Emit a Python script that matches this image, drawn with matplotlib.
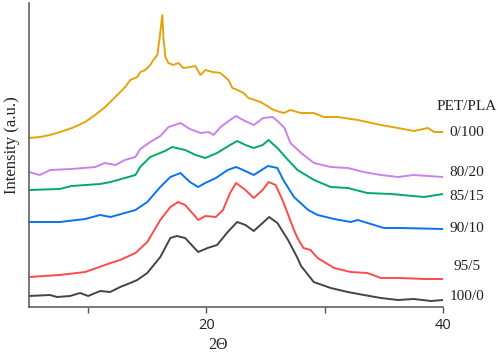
import matplotlib
import matplotlib.pyplot as plt

matplotlib.use("Agg", force=True)

# 2-theta / intensity (a.u.) pairs, bottom to top
two_theta_100_0 = [5.0, 6.78, 7.37, 8.47, 9.32, 10.0, 11.02, 11.86, 12.71, 13.56, 14.15, 15.0, 16.1, 16.95,
                   17.5, 18.2, 19.3, 20.1, 20.9, 21.8, 22.6, 23.3, 24.0, 24.75, 25.3, 26.0, 26.9, 27.7,
                   28.0, 29.07, 30.51, 31.95, 33.31, 34.75, 36.19, 37.54, 38.98, 40.0]
int_100_0 = [11, 12, 10, 11, 14, 11, 16, 15, 20, 24, 27, 34, 50, 69,
             71, 69, 55, 59, 62, 75, 85, 82, 76, 84, 90, 84, 67, 49,
             41, 25, 19, 15, 12, 9, 7, 8, 6, 7]

two_theta_95_5 = [5.0, 7.6, 9.75, 11.9, 12.7, 14.0, 15.0, 16.1, 16.95, 17.6, 18.2, 19.1, 19.3, 19.9,
                  20.8, 21.4, 22.0, 22.5, 23.3, 24.0, 24.75, 25.25, 25.85, 26.5, 27.4, 27.7, 28.2, 28.8,
                  29.4, 30.8, 32.2, 33.6, 34.75, 36.4, 38.4, 40.0]
int_95_5 = [30, 32, 35, 44, 47, 54, 65, 87, 100, 105, 102, 90, 87, 91,
            90, 97, 114, 124, 117, 109, 117, 125, 122, 105, 77, 69, 59, 57,
            49, 39, 35, 34, 29, 29, 28, 28]

two_theta_90_10 = [5.0, 7.6, 9.75, 11.0, 11.9, 13.1, 14.0, 15.0, 16.1, 16.95, 17.8, 18.6, 19.3, 19.9,
                   20.8, 21.8, 22.5, 23.1, 24.0, 25.2, 26.0, 26.5, 27.4, 28.6, 29.4, 30.8, 32.2, 32.8,
                   35.0, 36.4, 40.0]
int_90_10 = [85, 85, 88, 92, 90, 94, 97, 105, 120, 130, 134, 125, 120, 124,
             129, 137, 140, 137, 132, 141, 139, 127, 110, 97, 92, 88, 85, 87,
             79, 79, 78]

two_theta_85_15 = [5.0, 7.6, 8.6, 11.0, 11.9, 13.1, 14.0, 14.4, 15.25, 16.5, 17.1, 18.2, 19.1, 19.9,
                   20.9, 22.0, 22.6, 23.3, 24.0, 24.75, 25.25, 26.0, 26.9, 27.7, 29.1, 30.5, 31.95, 33.6,
                   35.6, 38.4, 40.0]
int_85_15 = [117, 118, 121, 123, 125, 129, 132, 140, 150, 156, 160, 157, 152, 149,
             154, 162, 166, 162, 159, 162, 167, 159, 147, 137, 127, 120, 119, 114,
             113, 110, 113]

two_theta_80_20 = [5.0, 5.9, 6.8, 8.6, 10.6, 11.4, 12.3, 13.1, 14.0, 14.4, 15.25, 16.1, 16.8, 17.8,
                   18.6, 19.5, 20.2, 20.6, 21.2, 22.0, 22.5, 23.1, 24.0, 24.8, 25.6, 26.1, 26.6, 26.9,
                   27.1, 28.0, 29.1, 30.5, 31.95, 33.3, 34.75, 36.2, 37.5, 40.0]
int_80_20 = [135, 132, 137, 138, 140, 144, 142, 147, 150, 158, 165, 171, 180, 184,
             178, 174, 175, 172, 180, 187, 191, 187, 182, 189, 190, 185, 179, 170,
             164, 154, 144, 140, 139, 135, 132, 130, 132, 130]

two_theta_0_100 = [5.0, 5.93, 6.78, 7.63, 8.64, 9.75, 10.59, 11.44, 12.29, 13.14, 13.56, 14.15, 14.41, 14.83,
                   15.25, 15.51, 15.85, 16.02, 16.27, 16.36, 16.53, 16.78, 17.2, 17.63, 18.05, 18.64, 19.07, 19.49,
                   19.92, 20.51, 21.19, 21.86, 22.2, 22.63, 23.14, 23.56, 24.58, 25.68, 26.53, 27.12, 27.97, 29.07,
                   29.92, 31.1, 32.8, 34.75, 36.19, 37.54, 38.73, 39.24, 40.0]
int_0_100 = [169, 170, 172, 175, 179, 185, 192, 200, 210, 220, 227, 230, 235, 237,
             242, 247, 252, 267, 292, 270, 250, 244, 242, 244, 239, 240, 241, 232,
             237, 235, 234, 227, 219, 217, 214, 209, 205, 197, 194, 197, 194, 194,
             190, 190, 187, 182, 179, 176, 179, 175, 175]

series = [
    ("100/0", two_theta_100_0, int_100_0, "#444444"),
    ("95/5", two_theta_95_5, int_95_5, "#ff4a4a"),
    ("90/10", two_theta_90_10, int_90_10, "#0a72ee"),
    ("85/15", two_theta_85_15, int_85_15, "#00a86b"),
    ("80/20", two_theta_80_20, int_80_20, "#c982ec"),
    ("0/100", two_theta_0_100, int_0_100, "#e3a40c"),
]
label_heights = [11, 40, 78, 110, 135, 174]

serif = ["Liberation Serif", "DejaVu Serif"]

fig = plt.figure(figsize=(4.98, 3.55), dpi=100)
ax = fig.add_axes([29 / 498, 48 / 355, 414 / 498, 304 / 355])

for (name, x, y, color), ylab in zip(series, label_heights):
    ax.plot(x, y, color=color, linewidth=1.4, solid_joinstyle="round")
    ax.text(42.0, ylab, name, ha="center", va="center", fontsize=11,
            family=serif, color="#222222", clip_on=False)
ax.text(42.0, 200, "PET/PLA", ha="center", va="center", fontsize=11,
        family=serif, color="#222222", clip_on=False)

ax.set_xlim(5, 40)
ax.set_ylim(0, 304)
ax.set_xticks([10, 20, 30, 40])
ax.set_xticklabels(["", "20", "", "40"])
ax.set_yticks([])
for side in ("top", "right"):
    ax.spines[side].set_visible(False)
for side in ("left", "bottom"):
    ax.spines[side].set_color("#555555")
    ax.spines[side].set_linewidth(1.1)
ax.tick_params(axis="x", direction="out", length=4, width=1, color="#555555",
               labelsize=10.5, labelcolor="#222222", pad=4)
for lab in ax.get_xticklabels():
    lab.set_family(["Open Sans", "DejaVu Sans"])

ax.set_xlabel("2Θ", fontsize=11.5, family=serif, color="#222222")
ax.xaxis.set_label_coords(0.457, -0.125)
ax.xaxis.label.set_va("center")
ax.set_ylabel("Intensity (a.u.)", fontsize=12, family=serif, color="#222222")
ax.yaxis.set_label_coords(-0.041, 0.533)
ax.yaxis.label.set_va("center")

fig.savefig("out.png", dpi=100)
plt.close(fig)
